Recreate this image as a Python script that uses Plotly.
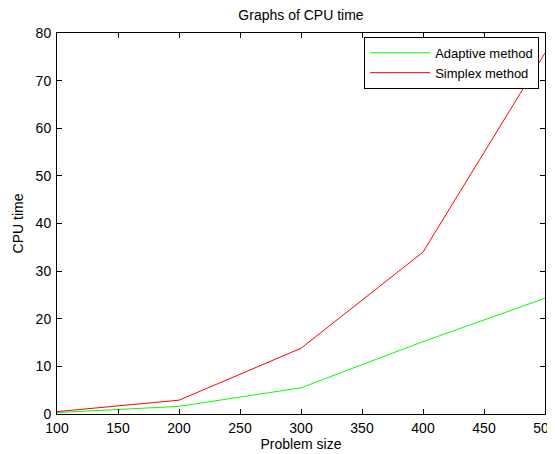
import plotly.graph_objects as go

problem_size = [100, 200, 300, 400, 500]
adaptive_time = [0.3, 1.6, 5.5, 15.2, 24.3]
simplex_time = [0.5, 2.9, 13.8, 34.0, 75.8]

fig = go.Figure()
fig.add_trace(go.Scatter(x=problem_size, y=adaptive_time, mode="lines",
                         name="Adaptive method", line=dict(color="#00ff00", width=1)))
fig.add_trace(go.Scatter(x=problem_size, y=simplex_time, mode="lines",
                         name="Simplex method", line=dict(color="#ff0000", width=1)))

FAM = "Liberation Sans, Arial, sans-serif"
font = dict(family=FAM, size=14, color="black")
axis_common = dict(showline=True, linecolor="black", linewidth=1, mirror="ticks",
                   ticks="inside", ticklen=5, tickcolor="black", showgrid=False,
                   zeroline=False, tickfont=font, automargin=False,
                   ticklabeloverflow="allow")

# page body has an 8px margin, so the figure is sized/offset to compensate
W, H = 547, 446
L, T, R, B = 49, 25, 10, 40

fig.update_layout(
    width=W, height=H,
    margin=dict(l=L, r=R, t=T, b=B),
    paper_bgcolor="white", plot_bgcolor="white",
    font=font,
    title=dict(text="Graphs of CPU time", x=(L + (W - R)) / 2 / W, xanchor="center",
               y=1 - 7 / H, yanchor="middle", font=dict(size=14, family=FAM)),
    xaxis=dict(range=[100, 500], tickvals=[100, 150, 200, 250, 300, 350, 400, 450, 500],
               ticklabelstandoff=1,
               title=dict(text="Problem size", font=dict(size=14, family=FAM), standoff=3),
               **axis_common),
    yaxis=dict(range=[0, 80], tickvals=[0, 10, 20, 30, 40, 50, 60, 70, 80],
               ticklabelstandoff=2,
               title=dict(text="CPU time", font=dict(size=14, family=FAM), standoff=8),
               **axis_common),
    legend=dict(x=0.988, xanchor="right", y=0.99, yanchor="top",
                bordercolor="black", borderwidth=1, bgcolor="white",
                itemwidth=60,
                font=dict(size=13, family=FAM), tracegroupgap=0),
    showlegend=True,
)

fig.write_html("out.html")
